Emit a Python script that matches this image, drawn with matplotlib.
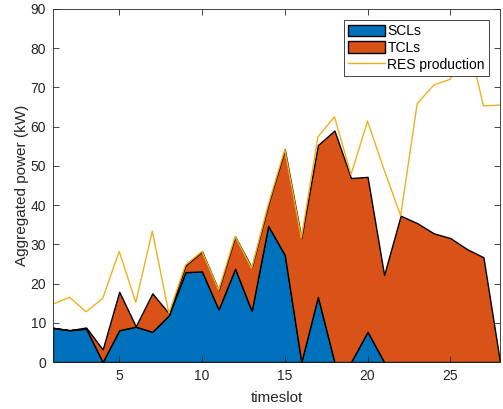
"""Puissance agrégée SCL / TCL empilée, avec la production RES par-dessus."""
import numpy as np
import matplotlib
matplotlib.use("Agg")
import matplotlib.pyplot as plt

plt.rcParams["font.family"] = ["Liberation Sans", "DejaVu Sans"]

timeslot = np.arange(1, 29)
scl = [8.7, 8.1, 8.5, 0.0, 8.1, 9.0, 7.7, 11.9, 22.9, 23.1, 13.4, 23.8, 13.0, 34.7,
       27.3, 0.0, 16.6, 0.0, 0.0, 7.7, 0.0, 0.0, 0.0, 0.0, 0.0, 0.0, 0.0, 0.0]
tcl = [0.0, 0.0, 0.3, 3.2, 9.8, 0.1, 9.8, 0.5, 1.7, 5.1, 4.9, 8.2, 11.1, 5.4,
       26.9, 31.6, 38.7, 59.0, 46.9, 39.5, 22.2, 37.3, 35.4, 32.8, 31.6, 28.8, 26.7, 0.0]
res = [14.8, 16.5, 12.8, 16.2, 28.2, 15.2, 33.4, 12.4, 24.7, 28.2, 18.3, 32.0, 23.9, 40.1,
       54.2, 31.6, 57.4, 62.5, 47.8, 61.4, 49.0, 37.3, 65.9, 70.6, 72.1, 83.2, 65.3, 65.5]

BLUE, ORANGE, YELLOW = "#0072BD", "#D95319", "#EDB120"
INK = "#262626"

fig = plt.figure(figsize=(5.03, 4.09), dpi=100)
ax = fig.add_axes([53 / 503, 47 / 409, 447 / 503, 353 / 409])

ax.stackplot(timeslot, scl, tcl, colors=[BLUE, ORANGE], labels=["SCLs", "TCLs"],
             edgecolor="black", linewidth=1.0)
ax.plot(timeslot, res, color=YELLOW, lw=1.0, label="RES production")

ax.set_xlim(1, 28)
ax.set_ylim(0, 90)
ax.set_xticks([5, 10, 15, 20, 25])
ax.set_yticks(range(0, 91, 10))
ax.tick_params(direction="in", top=True, right=True, length=4, width=0.6,
               colors=INK, labelsize=10, pad=5)
for s in ax.spines.values():
    s.set_color(INK)
    s.set_linewidth(0.6)
ax.set_xlabel("timeslot", fontsize=11, color=INK, labelpad=6)
ax.set_ylabel("Aggregated power (kW)", fontsize=11, color=INK, labelpad=1)

# legende calée sur la boîte de l'original (x 348-489, y 20-74 px)
leg = ax.legend(loc="upper right", bbox_to_anchor=((489 - 53) / 447, 1 - 11 / 353),
                fontsize=10, frameon=True, fancybox=False, framealpha=1,
                edgecolor=INK, borderpad=0.3, labelspacing=0.2, handlelength=2.6,
                handleheight=0.9, handletextpad=0.2, borderaxespad=0)
leg.get_frame().set_linewidth(0.6)

fig.savefig("out.png", dpi=100)
